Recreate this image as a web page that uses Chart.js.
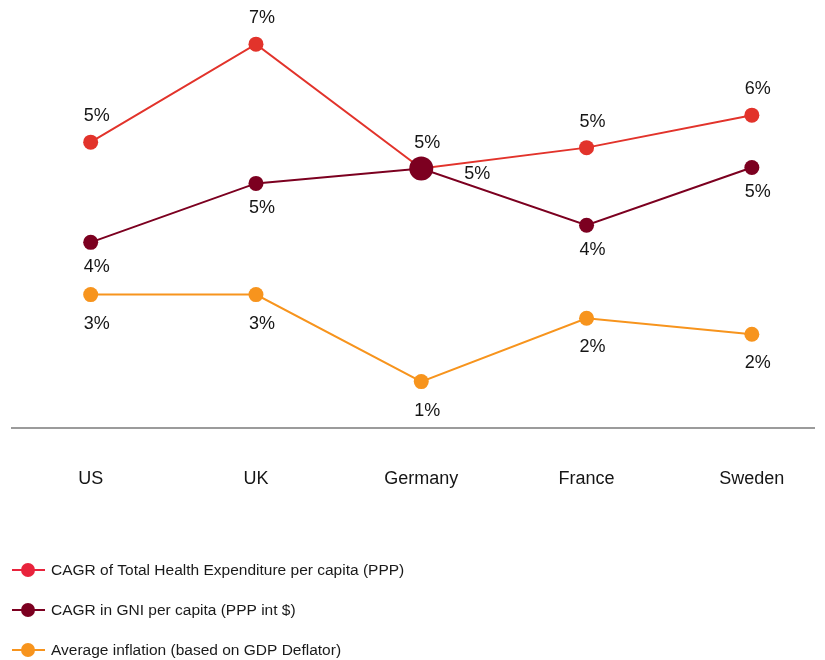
<!DOCTYPE html>
<html>
<head>
<meta charset="utf-8">
<script src="https://cdn.jsdelivr.net/npm/chart.js@4/dist/chart.umd.min.js"></script>
<style>
  html, body { margin: 0; padding: 0; background: #fff; overflow: hidden; }
  #wrap { width: 825px; height: 660px; position: relative; }
  canvas { display: block; }
</style>
</head>
<body>
<div id="wrap"><canvas id="chart"></canvas></div>
<script>
const countries = ["US", "UK", "Germany", "France", "Sweden"];

const healthExp = [5.40, 7.18, 4.92, 5.30, 5.89];
const gniGrowth = [3.58, 4.65, 4.92, 3.89, 4.94];
const inflation = [2.63, 2.63, 1.05, 2.20, 1.91];

const seriesNames = [
  "CAGR of Total Health Expenditure per capita (PPP)",
  "CAGR in GNI per capita (PPP int $)",
  "Average inflation (based on GDP Deflator)"
];

const RED = "#e2332b";
const DARK = "#7c0020";
const ORANGE = "#f7941d";
const FONT = "'Liberation Sans', Arial, sans-serif";

function toPoints(values) {
  return values.map((v, i) => ({ x: i, y: v }));
}

// percent labels next to each point
const pointLabels = {
  id: "pointLabels",
  afterDatasetsDraw(chart) {
    const ctx = chart.ctx;
    ctx.save();
    ctx.font = "18px " + FONT;
    ctx.fillStyle = "#151515";
    ctx.textAlign = "center";
    ctx.textBaseline = "middle";
    chart.data.datasets.forEach((ds, di) => {
      const meta = chart.getDatasetMeta(di);
      meta.data.forEach((pt, i) => {
        const txt = Math.round(ds.data[i].y) + "%";
        let x = pt.x + 6;
        let y = pt.y + ds.labelOffset;
        // point shared with another series -> put the label to the right
        const clash = chart.data.datasets.some((o, oi) => {
          if (oi === di) return false;
          const p = chart.getDatasetMeta(oi).data[i];
          return Math.abs(p.y - pt.y) < 4;
        });
        if (clash && ds.labelOffset > 0) {
          x = pt.x + 56;
          y = pt.y + 5;
        }
        ctx.fillText(txt, x, y);
      });
    });
    ctx.restore();
  }
};

// legend drawn as stacked rows under the axis
const stackedLegend = {
  id: "stackedLegend",
  afterDraw(chart) {
    const ctx = chart.ctx;
    ctx.save();
    chart.data.datasets.forEach((ds, i) => {
      const y = chart.height - 90 + i * 40;
      ctx.strokeStyle = ds.legendColor;
      ctx.lineWidth = 2;
      ctx.beginPath();
      ctx.moveTo(12, y);
      ctx.lineTo(45, y);
      ctx.stroke();
      ctx.fillStyle = ds.legendColor;
      ctx.beginPath();
      ctx.arc(28, y, 7, 0, Math.PI * 2);
      ctx.fill();
      ctx.fillStyle = "#1a1a1a";
      ctx.font = "15.5px " + FONT;
      ctx.textAlign = "left";
      ctx.textBaseline = "middle";
      ctx.fillText(ds.label, 51, y + 1);
    });
    ctx.restore();
  }
};

const chart = document.querySelector("#chart").getContext("2d");

new Chart(chart, {
  type: "line",
  data: {
    datasets: [
      {
        label: seriesNames[0],
        data: toPoints(healthExp),
        borderColor: RED,
        backgroundColor: RED,
        legendColor: "#e8233c",
        labelOffset: -26,
        order: 1
      },
      {
        label: seriesNames[1],
        data: toPoints(gniGrowth),
        borderColor: DARK,
        backgroundColor: DARK,
        legendColor: DARK,
        labelOffset: 25,
        order: 0,
        pointRadius: (c) => c.dataIndex === 2 ? 12 : 7.5
      },
      {
        label: seriesNames[2],
        data: toPoints(inflation),
        borderColor: ORANGE,
        backgroundColor: ORANGE,
        legendColor: ORANGE,
        labelOffset: 29,
        order: 2
      }
    ]
  },
  options: {
    responsive: true,
    maintainAspectRatio: false,
    animation: false,
    layout: { padding: { left: 12, right: 0, top: 10, bottom: 130 } },
    elements: {
      line: { borderWidth: 2, tension: 0 },
      point: { radius: 7.5, borderWidth: 0, hoverRadius: 8 }
    },
    plugins: {
      legend: { display: false },
      tooltip: { enabled: false }
    },
    scales: {
      x: {
        type: "linear",
        min: -0.476,
        max: 4.38,
        afterBuildTicks: (scale) => {
          scale.ticks = countries.map((c, i) => ({ value: i }));
        },
        grid: { display: false, drawTicks: false },
        border: { display: true, color: "#9b9b9b", width: 2 },
        ticks: {
          padding: 40,
          color: "#151515",
          font: { family: FONT, size: 18 },
          callback: (v) => countries[v] ?? ""
        }
      },
      y: {
        display: false,
        min: 0.2,
        max: 7.8
      }
    }
  },
  plugins: [pointLabels, stackedLegend]
});
</script>
</body>
</html>
